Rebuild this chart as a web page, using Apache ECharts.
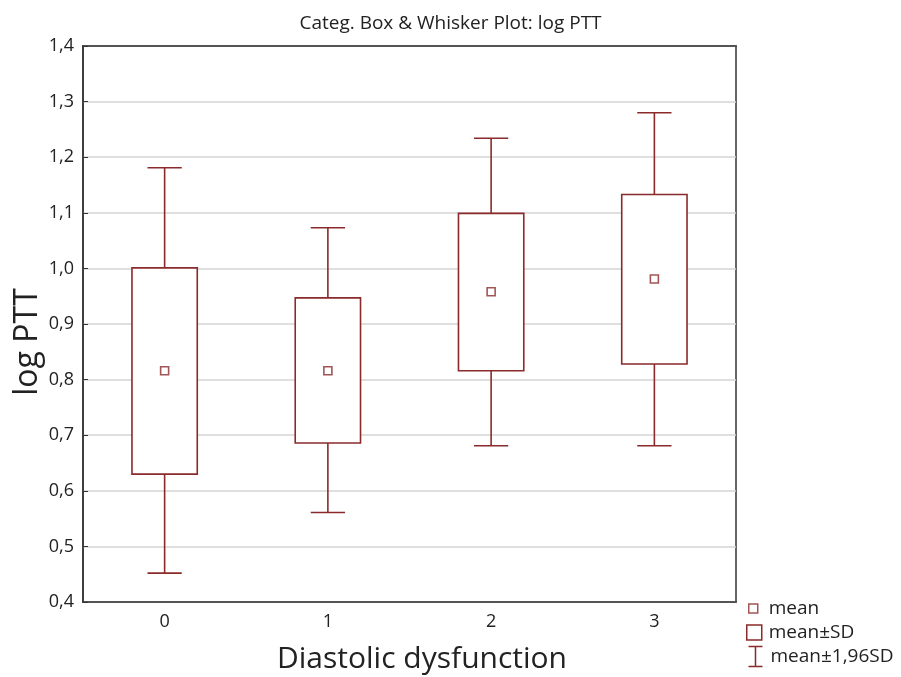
<!DOCTYPE html>
<html><head><meta charset="utf-8">
<script src="https://cdn.jsdelivr.net/npm/echarts@6/dist/echarts.min.js"></script>
<style>html,body{margin:0;padding:0;background:#fff}#c{width:901px;height:677px}</style>
</head><body><div id="c"></div>
<script>
const categories = ['0', '1', '2', '3'];
const whiskerLow = [0.452, 0.561, 0.681, 0.681];
const sdLow = [0.630, 0.686, 0.816, 0.828];
const means = [0.816, 0.816, 0.958, 0.981];
const sdHigh = [1.001, 0.947, 1.099, 1.133];
const whiskerHigh = [1.181, 1.073, 1.234, 1.280];
const yTicks = [0.4, 1.4, 0.1];

const C = '#8b2a2a';
const FONT = 'Open Sans';

const chart = echarts.init(document.getElementById('c'));
const boxData = categories.map((c, i) => [i, sdLow[i], sdHigh[i]]);
const whiskData = categories.map((c, i) => [i, whiskerLow[i], sdLow[i], sdHigh[i], whiskerHigh[i]]);
const meanData = categories.map((c, i) => [i, means[i]]);

chart.setOption({
  animation: false,
  textStyle: { fontFamily: FONT },
  title: { text: 'Categ. Box & Whisker Plot: log PTT', left: 'center', top: 9,
    textStyle: { fontFamily: FONT, fontSize: 19, fontWeight: 'normal', color: '#222' } },
  grid: { left: 83, right: 165, top: 46, bottom: 75, show: true, borderColor: '#333', borderWidth: 1.5, backgroundColor: 'transparent' },
  graphic: [
    { type: 'text', x: 28, y: 342, rotation: Math.PI / 2,
      style: { text: 'log PTT', fontFamily: FONT, fontSize: 32, fill: '#222', align: 'center', verticalAlign: 'middle' } },
    { type: 'text', x: 422, y: 659,
      style: { text: 'Diastolic dysfunction', fontFamily: FONT, fontSize: 30, fill: '#222', align: 'center', verticalAlign: 'middle' } }
  ],
  xAxis: [{
    type: 'category', data: categories, boundaryGap: true,
    axisLine: { lineStyle: { color: '#333', width: 1.5 } },
    axisTick: { inside: true, length: 5, alignWithLabel: true, lineStyle: { color: '#333' } },
    axisLabel: { fontFamily: FONT, fontSize: 18, color: '#222', margin: 11 },
    splitLine: { show: false }
  }, {
    type: 'category', data: categories, position: 'top', boundaryGap: true,
    axisLine: { show: true, lineStyle: { color: '#333', width: 1.5 } },
    axisTick: { inside: true, length: 5, alignWithLabel: true, lineStyle: { color: '#333' } },
    axisLabel: { show: false }
  }],
  yAxis: {
    type: 'value', min: yTicks[0], max: yTicks[1], interval: yTicks[2],
    axisLine: { show: true, lineStyle: { color: '#333', width: 1.5 } },
    axisTick: { show: true, inside: true, length: 5, lineStyle: { color: '#333' } },
    axisLabel: { fontFamily: FONT, fontSize: 18, color: '#222', margin: 9,
      formatter: v => v.toFixed(1).replace('.', ',') },
    splitLine: { show: true, lineStyle: { color: '#d4d4d4', width: 1.5 } }
  },
  legend: [
    { data: [{ name: 'mean', icon: 'rect' }], orient: 'vertical', left: 743, top: 594, itemWidth: 9, itemHeight: 9,
      itemGap: 0, textStyle: { fontFamily: FONT, fontSize: 19, color: '#222', padding: [0, 0, 0, 6] },
      itemStyle: { color: '#fff', borderColor: C, borderWidth: 1.5 }, selectedMode: false },
    { data: [{ name: 'mean±SD', icon: 'rect' }], orient: 'vertical', left: 741, top: 618, itemWidth: 15, itemHeight: 15,
      itemGap: 0, textStyle: { fontFamily: FONT, fontSize: 19, color: '#222', padding: [0, 0, 0, 2] },
      itemStyle: { color: '#fff', borderColor: C, borderWidth: 1.5 }, selectedMode: false },
    { data: [{ name: 'mean±1,96SD', icon: 'path://M0,0L14,0M7,0L7,20M0,20L14,20' }], orient: 'vertical', left: 741, top: 639, itemWidth: 14, itemHeight: 20,
      itemGap: 0, textStyle: { fontFamily: FONT, fontSize: 19, color: '#222', padding: [0, 0, 0, 3] },
      itemStyle: { color: 'none', borderColor: C, borderWidth: 1.5 }, selectedMode: false }
  ],
  series: [
    {
      name: 'mean±1,96SD', type: 'custom', data: whiskData, xAxisIndex: 0,
      encode: { x: 0, y: [1, 2, 3, 4] },
      renderItem: (params, api) => {
        const x = api.value(0);
        const bw = api.size([1, 0])[0];
        const cap = bw * 0.105;
        const pLo = api.coord([x, api.value(1)]);
        const pBl = api.coord([x, api.value(2)]);
        const pBh = api.coord([x, api.value(3)]);
        const pHi = api.coord([x, api.value(4)]);
        const st = { stroke: C, lineWidth: 1.6, fill: null };
        return { type: 'group', children: [
          { type: 'line', shape: { x1: pLo[0], y1: pLo[1], x2: pBl[0], y2: pBl[1] }, style: st },
          { type: 'line', shape: { x1: pBh[0], y1: pBh[1], x2: pHi[0], y2: pHi[1] }, style: st },
          { type: 'line', shape: { x1: pLo[0] - cap, y1: pLo[1], x2: pLo[0] + cap, y2: pLo[1] }, style: st },
          { type: 'line', shape: { x1: pHi[0] - cap, y1: pHi[1], x2: pHi[0] + cap, y2: pHi[1] }, style: st }
        ] };
      }
    },
    {
      name: 'mean±SD', type: 'custom', data: boxData, xAxisIndex: 0,
      encode: { x: 0, y: [1, 2] },
      renderItem: (params, api) => {
        const x = api.value(0);
        const bw = api.size([1, 0])[0];
        const half = bw * 0.2;
        const lo = api.coord([x, api.value(1)]);
        const hi = api.coord([x, api.value(2)]);
        return { type: 'rect', shape: { x: lo[0] - half, y: hi[1], width: half * 2, height: lo[1] - hi[1] },
          style: { stroke: C, lineWidth: 1.6, fill: '#fff' } };
      }
    },
    {
      name: 'mean', type: 'scatter', data: meanData, symbol: 'rect', symbolSize: 8, z: 5, xAxisIndex: 0,
      itemStyle: { color: '#fff', borderColor: C, borderWidth: 1.6 }
    }
  ]
});
</script></body></html>
